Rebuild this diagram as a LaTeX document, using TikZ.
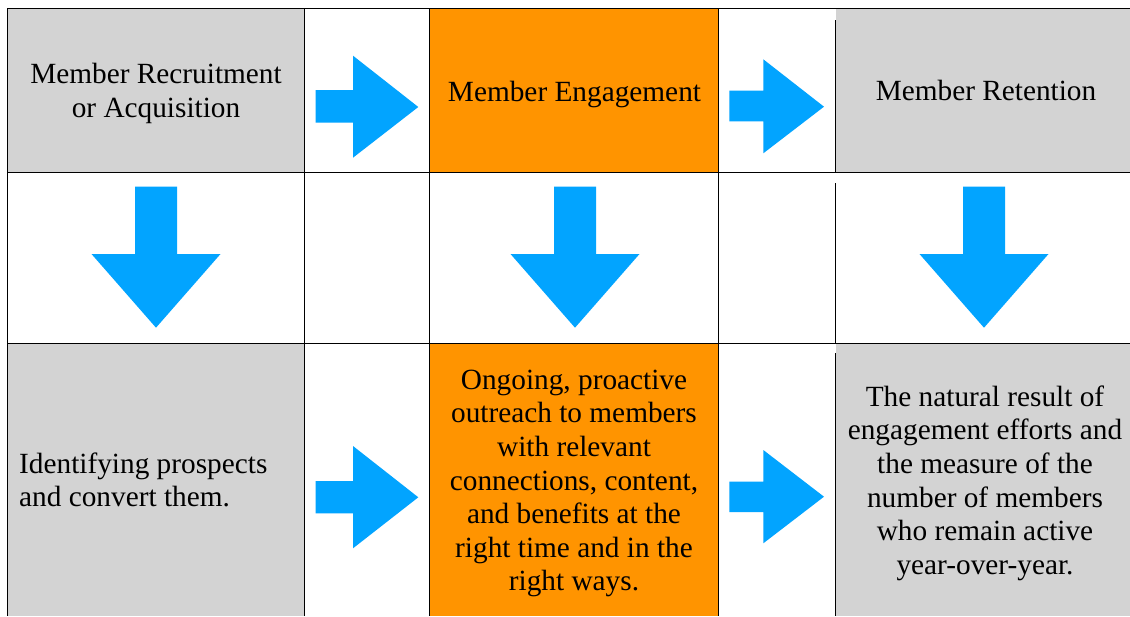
\documentclass[tikz,border=0pt]{standalone}
\usepackage{fontspec}
\setmainfont{Liberation Serif}
\definecolor{cellgray}{RGB}{211,211,211}
\definecolor{cellorange}{RGB}{255,148,0}
\definecolor{arrowblue}{RGB}{2,164,255}
\tikzset{
  grid line/.style={draw=black, line width=1pt},
  gray cell/.style={fill=cellgray},
  orange cell/.style={fill=cellorange},
  block arrow/.style={fill=arrowblue},
  label text/.style={inner sep=0pt, font=\fontsize{29.3}{33.6}\selectfont, text=black},
}
\begin{document}
\begin{tikzpicture}[x=1pt,y=-1pt]
\useasboundingbox (0,0) rectangle (1130,616);
\fill[white] (0,0) rectangle (1130,616);
% cell fills
\fill[gray cell]   (7.5,8.5) rectangle (304.5,172.5);
\fill[orange cell] (429.5,8.5) rectangle (718.5,172.5);
\fill[gray cell]   (835.5,8.5) rectangle (1130,172.5);
\fill[gray cell]   (7.5,343.5) rectangle (304.5,616);
\fill[orange cell] (429.5,343.5) rectangle (718.5,616);
\fill[gray cell]   (835.5,343.5) rectangle (1130,616);
% grid
\draw[grid line] (7,8.5) -- (1130,8.5);
\draw[grid line] (7,172.5) -- (1130,172.5);
\draw[grid line] (7,343.5) -- (1130,343.5);
\draw[grid line] (7.5,8) -- (7.5,616);
\draw[grid line] (304.5,8) -- (304.5,616);
\draw[grid line] (429.5,8) -- (429.5,616);
\draw[grid line] (718.5,8) -- (718.5,616);
\draw[grid line] (835.5,20) -- (835.5,172.5);
\draw[grid line] (835.5,183.3) -- (835.5,343.5);
\draw[grid line] (835.5,353.3) -- (835.5,616);
% right arrows
\fill[block arrow] (315.7,90) -- (353,90) -- (353,55.7) -- (418.3,107) -- (353,157.7) -- (353,122.7) -- (315.7,122.7) -- cycle;
\fill[block arrow] (729.3,90.7) -- (763.3,90.7) -- (763.3,59.3) -- (824,106.7) -- (763.3,153.3) -- (763.3,121.3) -- (729.3,121.3) -- cycle;
\fill[block arrow] (315.7,481) -- (353,481) -- (353,446) -- (418.3,497.3) -- (353,548.3) -- (353,513.3) -- (315.7,513.3) -- cycle;
\fill[block arrow] (729.3,481.7) -- (763.3,481.7) -- (763.3,450) -- (824,496.7) -- (763.3,543.3) -- (763.3,512) -- (729.3,512) -- cycle;
% down arrows
\foreach \cx in {156,575,984}{
  \fill[block arrow] (\cx-21,186.7) -- (\cx+21,186.7) -- (\cx+21,254) -- (\cx+64.5,254) -- (\cx,327.7) -- (\cx-64.5,254) -- (\cx-21,254) -- cycle;
}
% texts
\node[label text, align=center] (recruit) at (156,93.6) {\strut Member Recruitment\\\strut or Acquisition};
\node[label text, anchor=base] (engage) at (574.5,101.7) {Member Engagement};
\node[label text, anchor=base] (retain) at (986,100) {Member Retention};
\node[label text, align=left, anchor=west] (identify) at (19,483.3) {\strut Identifying prospects\\\strut and convert them.};
\node[label text, align=center] (outreach) at (574,483.3) {\strut Ongoing, proactive\\\strut outreach to members\\\strut with relevant\\\strut connections, content,\\\strut and benefits at the\\\strut right time and in the\\\strut right ways.};
\node[label text, align=center] (result) at (985,483.5) {\strut The natural result of\\\strut engagement efforts and\\\strut the measure of the\\\strut number of members\\\strut who remain active\\\strut year-over-year.};
\end{tikzpicture}
\end{document}
